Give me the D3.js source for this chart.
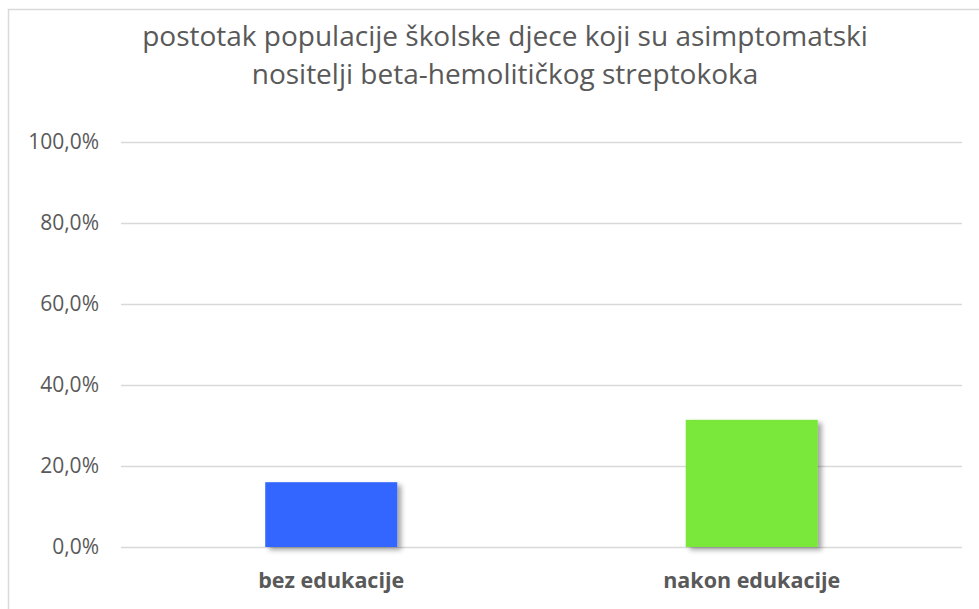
<!DOCTYPE html>
<html>
<head>
<meta charset="utf-8">
<script src="https://cdn.jsdelivr.net/npm/d3@7"></script>
<style>
  body { margin: 0; background: #fff; }
  text { font-family: "Open Sans", "Noto Sans", sans-serif; }
</style>
</head>
<body>
<script>
const width = 979;
const height = 609;

const categories = ["bez edukacije", "nakon edukacije"];
const values = [0.16, 0.314];
const colors = ["#3366ff", "#7ae83a"];
const tickValues = [0, 0.2, 0.4, 0.6, 0.8, 1.0];
const titleLines = ["postotak populacije školske djece koji su asimptomatski",
                    "nositelji beta-hemolitičkog streptokoka"];

const margin = { top: 142, right: 17, bottom: 62, left: 121 };

const svg = d3.select("body").append("svg")
    .attr("width", width)
    .attr("height", height);

const defs = svg.append("defs");
const shadow = defs.append("filter")
    .attr("id", "shadow")
    .attr("x", "-10%").attr("y", "-10%")
    .attr("width", "130%").attr("height", "130%");
shadow.append("feDropShadow")
    .attr("dx", 4).attr("dy", 3)
    .attr("stdDeviation", 2.5)
    .attr("flood-color", "#000")
    .attr("flood-opacity", 0.35);

// chart frame (only left and top visible in the crop)
svg.append("path")
    .attr("d", `M8.5,${height} L8.5,9.5 L${width},9.5`)
    .attr("fill", "none")
    .attr("stroke", "#d9d9d9")
    .attr("stroke-width", 1.5);

const x = d3.scaleBand()
    .domain(categories)
    .range([margin.left, width - margin.right])
    .paddingInner(0.686)
    .paddingOuter(0.343);

const y = d3.scaleLinear()
    .domain([0, 1])
    .range([height - margin.bottom, margin.top]);

const fmt = d => d3.format(".1f")(d * 100).replace(".", ",") + "%";

const yAxis = svg.append("g")
    .attr("transform", `translate(${margin.left},0)`)
    .call(d3.axisLeft(y).tickValues(tickValues).tickSize(-(width - margin.left - margin.right)).tickPadding(22).tickFormat(fmt));
yAxis.select(".domain").remove();
yAxis.selectAll(".tick line")
    .attr("stroke", "#d9d9d9")
    .attr("stroke-width", 1.3);
yAxis.selectAll(".tick text")
    .attr("fill", "#595959")
    .style("font-size", "21px");

svg.append("g")
    .selectAll("text")
    .data(categories)
    .join("text")
    .attr("x", d => x(d) + x.bandwidth() / 2)
    .attr("y", 588)
    .attr("text-anchor", "middle")
    .attr("fill", "#595959")
    .style("font-size", "21.5px")
    .style("font-weight", "bold")
    .text(d => d);

svg.append("g")
    .selectAll("rect")
    .data(categories)
    .join("rect")
    .attr("x", d => x(d))
    .attr("y", (d, i) => y(values[i]))
    .attr("width", x.bandwidth())
    .attr("height", (d, i) => y(0) - y(values[i]))
    .attr("fill", (d, i) => colors[i])
    .attr("filter", "url(#shadow)");

svg.append("g")
    .selectAll("text")
    .data(titleLines)
    .join("text")
    .attr("x", 505)
    .attr("y", (d, i) => 46 + i * 38)
    .attr("text-anchor", "middle")
    .attr("fill", "#595959")
    .style("font-size", "28px")
    .text(d => d);
</script>
</body>
</html>
